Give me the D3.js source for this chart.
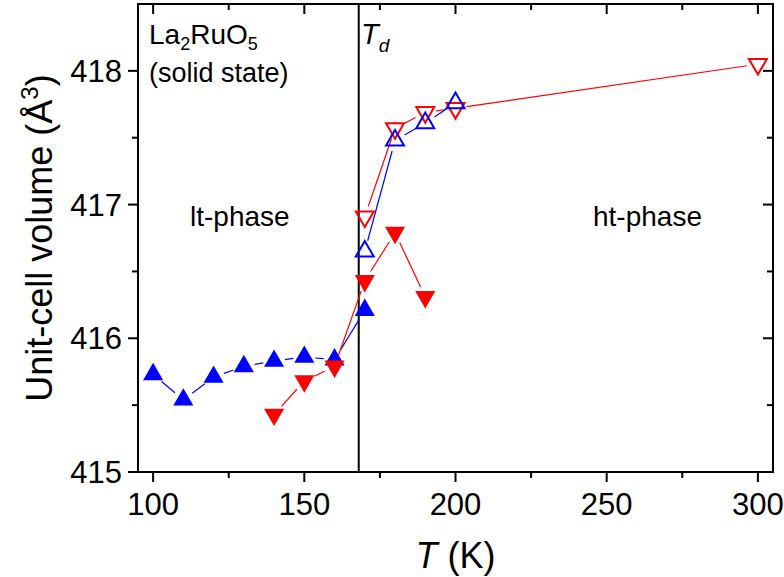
<!DOCTYPE html>
<html>
<head>
<meta charset="utf-8">
<script src="https://cdn.jsdelivr.net/npm/d3@7"></script>
<style>
  body { margin: 0; background: #fff; }
  text { font-family: "Liberation Sans", Arial, sans-serif; fill: #000; }
</style>
</head>
<body>
<div id="chart"></div>
<script>
// data
var tBlueSolid = [100, 110, 120, 130, 140, 150, 160, 170];
var vBlueSolid = [415.73, 415.54, 415.71, 415.79, 415.83, 415.86, 415.84, 416.21];
var tBlueOpen = [170, 180, 190, 200];
var vBlueOpen = [416.65, 417.48, 417.61, 417.76];
var tRedSolid = [140, 150, 160, 170, 180, 190];
var vRedSolid = [415.43, 415.68, 415.79, 416.43, 416.79, 416.31];
var tRedOpen = [170, 180, 190, 200, 300];
var vRedOpen = [416.91, 417.57, 417.69, 417.72, 418.05];
var xTicks = [100, 150, 200, 250, 300];
var yTicks = [415, 416, 417, 418];
var tD = 168;

var width = 784, height = 577;
var margin = {left: 138, right: 11, top: 4, bottom: 105};

var svg = d3.select('#chart').append('svg')
    .attr('width', width)
    .attr('height', height);

var x = d3.scaleLinear().domain([95, 305]).range([margin.left, width - margin.right]);
var y = d3.scaleLinear().domain([415, 418.5]).range([height - margin.bottom, margin.top]);

var xMinor = d3.range(125, 305, 50);
var yMinor = d3.range(415.5, 418.5, 1);

// frame ticks
function tickLines(vals, len, side) {
    vals.forEach(function (v) {
        var l = svg.append('line').attr('stroke', '#000').attr('stroke-width', 2);
        if (side === 'bottom') l.attr('x1', x(v)).attr('x2', x(v)).attr('y1', y.range()[0]).attr('y2', y.range()[0] + len);
        if (side === 'top') l.attr('x1', x(v)).attr('x2', x(v)).attr('y1', y.range()[1]).attr('y2', y.range()[1] + len);
        if (side === 'left') l.attr('y1', y(v)).attr('y2', y(v)).attr('x1', x.range()[0]).attr('x2', x.range()[0] - len);
        if (side === 'right') l.attr('y1', y(v)).attr('y2', y(v)).attr('x1', x.range()[1]).attr('x2', x.range()[1] - len);
    });
}
tickLines(xTicks, 10, 'bottom');
tickLines(xMinor, 6, 'bottom');
tickLines(xTicks, 10, 'top');
tickLines(xMinor, 6, 'top');
tickLines(yTicks, 10, 'left');
tickLines(yMinor, 6, 'left');
tickLines(yTicks, 10, 'right');
tickLines(yMinor, 6, 'right');

svg.append('rect')
    .attr('x', x.range()[0]).attr('y', y.range()[1])
    .attr('width', x.range()[1] - x.range()[0])
    .attr('height', y.range()[0] - y.range()[1])
    .attr('fill', 'none').attr('stroke', '#000').attr('stroke-width', 2);

// tick labels
svg.selectAll('.xl').data(xTicks).enter().append('text')
    .attr('x', d => x(d)).attr('y', y.range()[0] + 43)
    .attr('text-anchor', 'middle').attr('font-size', 31)
    .text(d => d);
svg.selectAll('.yl').data(yTicks).enter().append('text')
    .attr('x', x.range()[0] - 16).attr('y', d => y(d) + 11)
    .attr('text-anchor', 'end').attr('font-size', 31)
    .text(d => d);

// axis titles
var yt = svg.append('text')
    .attr('transform', 'translate(52,' + ((y.range()[0] + y.range()[1]) / 2) + ') rotate(-90)')
    .attr('text-anchor', 'middle').attr('font-size', 36);
yt.append('tspan').text('Unit-cell volume (Å');
yt.append('tspan').attr('font-size', 24).attr('dy', -14).text('3');
yt.append('tspan').attr('dy', 14).text(')');

var xt = svg.append('text')
    .attr('x', (x.range()[0] + x.range()[1]) / 2).attr('y', 568)
    .attr('text-anchor', 'middle').attr('font-size', 36);
xt.append('tspan').attr('font-style', 'italic').text('T');
xt.append('tspan').text(' (K)');

// transition line
svg.append('line')
    .attr('x1', x(tD)).attr('x2', x(tD))
    .attr('y1', y.range()[1]).attr('y2', y.range()[0])
    .attr('stroke', '#000').attr('stroke-width', 2);

// annotations
var t1 = svg.append('text').attr('x', 149).attr('y', 44).attr('font-size', 28);
t1.append('tspan').text('La');
t1.append('tspan').attr('font-size', 18).attr('dy', 6).text('2');
t1.append('tspan').attr('dy', -6).text('RuO');
t1.append('tspan').attr('font-size', 18).attr('dy', 6).text('5');
svg.append('text').attr('x', 149).attr('y', 82).attr('font-size', 27).text('(solid state)');

var t2 = svg.append('text').attr('x', 361).attr('y', 44).attr('font-size', 29);
t2.append('tspan').attr('font-style', 'italic').text('T');
t2.append('tspan').attr('font-style', 'italic').attr('font-size', 19).attr('dy', 8).text('d');

svg.append('text').attr('x', 190).attr('y', 226).attr('font-size', 28).text('lt-phase');
svg.append('text').attr('x', 593).attr('y', 226).attr('font-size', 28).text('ht-phase');

// series: lines with small gaps at the markers, then symbols
function series(ts, vs, color, up, filled) {
    var pts = ts.map((t, i) => [x(t), y(vs[i])]);
    var gap = 11;
    for (var i = 0; i < pts.length - 1; i++) {
        var a = pts[i], b = pts[i + 1];
        var dx = b[0] - a[0], dy = b[1] - a[1];
        var len = Math.sqrt(dx * dx + dy * dy);
        if (len <= 2 * gap) continue;
        var ux = dx / len, uy = dy / len;
        svg.append('line')
            .attr('x1', a[0] + ux * gap).attr('y1', a[1] + uy * gap)
            .attr('x2', b[0] - ux * gap).attr('y2', b[1] - uy * gap)
            .attr('stroke', color).attr('stroke-width', 1.2);
    }
    var sym = d3.symbol().type(d3.symbolTriangle).size(filled ? 175 : 140);
    svg.selectAll(null).data(pts).enter().append('path')
        .attr('d', sym)
        .attr('transform', d => 'translate(' + d[0] + ',' + d[1] + ')' + (up ? '' : ' rotate(180)'))
        .attr('fill', filled ? color : 'none')
        .attr('stroke', color)
        .attr('stroke-width', filled ? 0 : 2);
}

series(tRedOpen, vRedOpen, '#ff0000', false, false);
series(tBlueOpen, vBlueOpen, '#0000ff', true, false);
series(tBlueSolid, vBlueSolid, '#0000ff', true, true);
series(tRedSolid, vRedSolid, '#ff0000', false, true);
</script>
</body>
</html>
